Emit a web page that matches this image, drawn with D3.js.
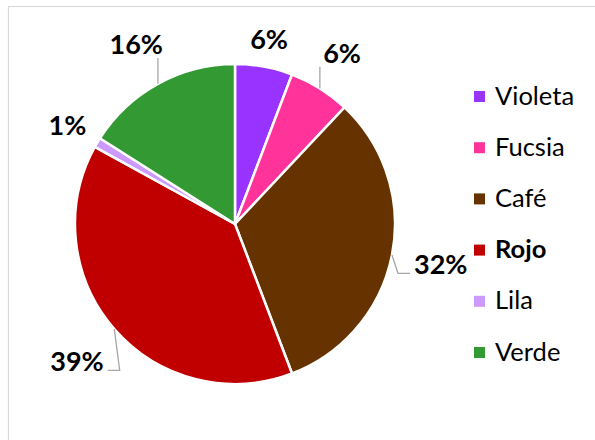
<!DOCTYPE html>
<html>
<head>
<meta charset="utf-8">
<script src="https://cdn.jsdelivr.net/npm/d3@7"></script>
<style>
html,body{margin:0;padding:0;background:#fff;}
svg{display:block;}
text{font-family:Lato,"Open Sans",sans-serif;}
</style>
</head>
<body>
<svg id="chart" width="595" height="440"></svg>
<script>
const categories = ["Violeta", "Fucsia", "Café", "Rojo", "Lila", "Verde"];
const values = [5.8, 6.2, 32.2, 38.8, 1.0, 16.0];
const colors = ["#9933FF", "#FF3399", "#663300", "#C00000", "#CC99FF", "#339933"];
const boldLegend = ["Rojo"];
const leaderFor = ["Fucsia", "Café", "Rojo", "Verde"];

const W = 595, H = 440;
const svg = d3.select("#chart");

// chart border
svg.append("rect").attr("x", 8.5).attr("y", 6.5).attr("width", W).attr("height", H)
  .attr("fill", "#fff").attr("stroke", "#d9d9d9").attr("stroke-width", 1.2);

const cx = 235, cy = 224, R = 160;
const total = d3.sum(values);
const data = categories.map((c, i) => ({cat: c, value: values[i], color: colors[i]}));

const pie = d3.pie().value(d => d.value).sort(null).startAngle(0).endAngle(2 * Math.PI);
const arcs = pie(data);
const arc = d3.arc().innerRadius(0).outerRadius(R);

const g = svg.append("g").attr("transform", `translate(${cx},${cy})`);
g.selectAll("path.slice").data(arcs).enter().append("path")
  .attr("class", "slice")
  .attr("d", arc)
  .attr("fill", d => d.data.color)
  .attr("stroke", "#fff").attr("stroke-width", 2.5).attr("stroke-linejoin", "round");

const labelSize = 27;
const legendSize = 25.5;

// labels
const fmt = v => Math.round(v / total * 100) + "%";
const labels = svg.append("g");
arcs.forEach(a => {
  const mid = (a.startAngle + a.endAngle) / 2;
  const s = Math.sin(mid), c = -Math.cos(mid);
  const hasLeader = leaderFor.includes(a.data.cat);
  const gap = hasLeader ? 21 : 12;
  const t = labels.append("text").attr("font-size", labelSize).attr("font-weight", "bold")
    .attr("fill", "#000").attr("text-anchor", "middle").text(fmt(a.data.value));
  const bw = t.node().getComputedTextLength();
  const bh = labelSize * 0.72;
  const ext = Math.abs(s) * bw / 2 + Math.abs(c) * (bh / 2 + 3);
  const dist = R + gap + ext;
  const lx = cx + s * dist, ly = cy + c * dist;
  const base = ly + bh / 2;
  t.attr("x", lx).attr("y", base);
  if (hasLeader) {
    const p0 = [cx + s * R, cy + c * R];
    let pts;
    if (Math.abs(s) > 0.7) {
      const side = s > 0 ? -1 : 1; // toward pie
      const ex = lx + side * (bw / 2 + 4), ey = base - 1;
      pts = [p0, [ex + side * 12, ey], [ex, ey]];
    } else {
      const x0 = lx - bw / 2 - 4, x1 = lx + bw / 2 + 2, y0 = ly - bh / 2 - 4, y1 = base + 4;
      pts = [p0, [Math.max(x0, Math.min(x1, p0[0])), Math.max(y0, Math.min(y1, p0[1]))]];
    }
    labels.insert("path", "text").attr("d", d3.line()(pts))
      .attr("fill", "none").attr("stroke", "#a6a6a6").attr("stroke-width", 1.3);
  }
});

// legend
const legY = d3.scalePoint().domain(categories).range([96.5, 352.5]);
const leg = svg.append("g");
categories.forEach((c, i) => {
  const y = legY(c);
  leg.append("rect").attr("x", 474).attr("y", y - 5.5).attr("width", 11).attr("height", 11)
    .attr("fill", colors[i]);
  leg.append("text").attr("x", 495).attr("y", y + 8)
    .attr("font-size", legendSize)
    .attr("font-weight", boldLegend.includes(c) ? "bold" : "normal")
    .attr("fill", "#000").text(c);
});
</script>
</body>
</html>
